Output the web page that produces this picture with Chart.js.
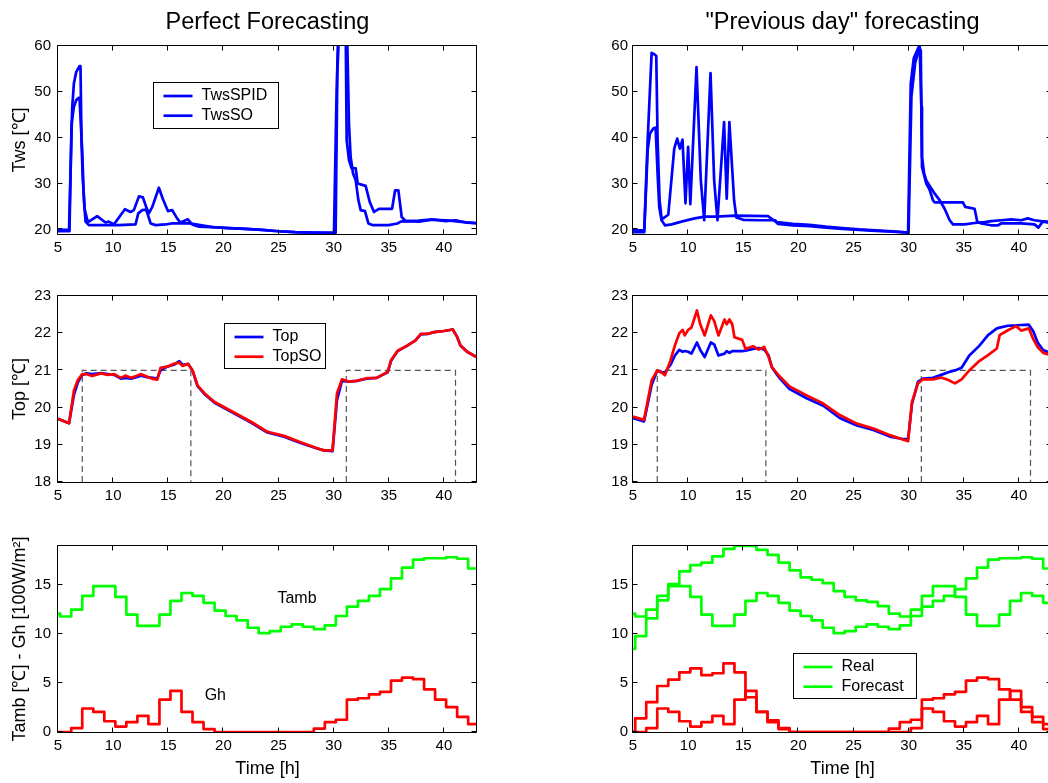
<!DOCTYPE html>
<html>
<head>
<meta charset="utf-8">
<script src="https://cdn.jsdelivr.net/npm/chart.js@4.4.1/dist/chart.umd.min.js"></script>
<style>
  html, body { margin: 0; padding: 0; background: #fff; }
  body { width: 1048px; height: 783px; position: relative; overflow: hidden; }
  canvas { position: absolute; }
</style>
</head>
<body>
<canvas id="c11" width="535" height="264" style="left:0;top:0"></canvas>
<canvas id="c12" width="565" height="264" style="left:560px;top:0"></canvas>
<canvas id="c21" width="535" height="238" style="left:0;top:264px"></canvas>
<canvas id="c22" width="565" height="238" style="left:560px;top:264px"></canvas>
<canvas id="c31" width="535" height="281" style="left:0;top:502px"></canvas>
<canvas id="c32" width="565" height="281" style="left:560px;top:502px"></canvas>
<script>
// tick values
const xTicks = [5, 10, 15, 20, 25, 30, 35, 40];
const twsTicks = [20, 30, 40, 50, 60];
const topTicks = [18, 19, 20, 21, 22, 23];
const ambTicks = [0, 5, 10, 15];

// Tws, perfect forecasting
const spidT = [5, 6.0, 6.13, 6.29, 6.44, 6.65, 6.95, 7.04, 7.13, 7.25, 7.43, 7.65, 7.8, 8.55, 9.31, 9.61, 10.07, 11.07, 11.58, 11.88, 12.34, 12.7, 13.0, 13.24, 13.55, 14.15, 14.5, 14.97, 15.36, 15.8, 16.1, 16.78, 17.17, 17.78, 19.0, 20.5, 22.0, 23.5, 25.0, 26.5, 28.0, 30.03, 30.24, 30.42, 31.09, 31.18, 31.39, 31.63, 31.76, 32.0, 32.18, 32.9, 33.27, 33.66, 34.11, 35.3, 35.57, 35.87, 36.17, 36.53, 37.74, 38.95, 40.16, 41.07, 41.98, 43.0];
const spidV = [19.9, 19.9, 32.2, 46.7, 51.8, 54.3, 55.6, 55.6, 39.5, 30.8, 24.3, 22.1, 21.7, 22.9, 21.5, 21.7, 21.1, 24.4, 23.8, 24.2, 27.2, 27.0, 24.9, 23.5, 24.9, 29.1, 26.7, 24.0, 24.2, 22.4, 21.5, 22.2, 21.1, 20.6, 20.5, 20.3, 20.1, 19.9, 19.6, 19.4, 19.3, 19.26, 46.7, 64, 64, 39.5, 35.1, 33.3, 33.4, 33.3, 30.0, 29.5, 26.0, 23.8, 24.5, 24.5, 28.5, 28.5, 22.7, 21.8, 21.9, 22.2, 21.8, 22.0, 21.5, 21.4];
const soT = [5, 6.04, 6.23, 6.44, 6.65, 6.89, 6.95, 7.19, 7.35, 7.5, 7.8, 9.0, 10.5, 12.03, 12.28, 12.64, 13.0, 13.4, 13.85, 14.76, 15.36, 16.87, 17.5, 19.0, 20.5, 22.0, 23.5, 25.0, 26.5, 28.0, 30.18, 30.33, 30.5, 31.05, 31.24, 31.39, 31.54, 31.76, 32.0, 32.24, 32.45, 32.84, 33.15, 33.51, 35.0, 35.78, 36.08, 36.53, 37.74, 38.95, 40.16, 41.37, 43.0];
const soV = [19.6, 19.6, 43.0, 46.7, 48.2, 48.7, 48.7, 37.3, 26.4, 21.7, 20.94, 20.94, 20.94, 21.08, 23.5, 24.2, 24.3, 21.3, 20.94, 21.08, 21.3, 21.3, 21.1, 20.5, 20.3, 20.1, 19.9, 19.6, 19.4, 19.3, 19.26, 53.9, 64, 64, 60.2, 43.0, 35.8, 32.2, 30.7, 26.4, 24.2, 24.0, 21.3, 20.94, 20.94, 21.3, 21.7, 21.8, 21.7, 22.1, 22.0, 21.7, 21.3];

// Tws, previous day forecasting
const spidPdT = [5, 6.02, 6.33, 6.69, 6.93, 7.11, 7.23, 7.41, 7.6, 8.2, 8.74, 9.01, 9.25, 9.49, 9.76, 10.0, 10.2, 10.76, 11.15, 11.46, 12.03, 12.36, 12.66, 13.26, 13.5, 13.74, 14.17, 14.38, 15.0, 16.5, 17.9, 18.14, 19.5, 21.0, 22.5, 24.0, 25.5, 27.0, 28.5, 29.95, 30.19, 30.46, 30.91, 31.0, 31.15, 31.21, 31.4, 31.6, 32.06, 32.36, 32.81, 33.26, 33.72, 34.02, 35.07, 35.98, 36.88, 37.5, 38.4, 39.3, 40.2, 40.8, 41.41, 42.0, 42.6, 43.0];
const spidPdV = [19.8, 19.8, 39.5, 58.5, 58.2, 57.8, 39.5, 26.4, 22.2, 23.2, 37.6, 39.8, 37.6, 39.6, 25.7, 38.0, 25.5, 55.4, 30.7, 22.0, 54.1, 30.7, 22.0, 43.4, 26.7, 43.4, 26.3, 22.6, 22.1, 22.0, 22.0, 21.2, 20.9, 20.7, 20.4, 20.1, 19.9, 19.7, 19.5, 19.3, 51.8, 57.3, 59.8, 60.0, 46.7, 35.8, 32.2, 30.7, 28.9, 27.8, 26.4, 24.5, 22.0, 21.1, 21.1, 21.4, 21.6, 21.8, 22.0, 22.2, 22.0, 22.4, 22.0, 21.8, 21.7, 21.7];
const soPdT = [5, 6.02, 6.33, 6.54, 6.84, 7.05, 7.23, 7.38, 7.59, 7.9, 8.5, 9.4, 10.6, 11.5, 12.57, 14.23, 17.24, 17.99, 19.5, 21.0, 22.5, 24.0, 25.5, 27.0, 28.5, 29.99, 30.25, 30.6, 31.0, 31.1, 31.21, 31.6, 31.91, 32.2, 32.36, 34.92, 35.13, 35.98, 36.22, 36.58, 37.49, 38.1, 38.4, 40.2, 41.41, 41.77, 42.16, 42.6, 43.0];
const soPdV = [19.4, 19.4, 37.3, 40.9, 42.0, 42.2, 32.2, 24.9, 22.0, 20.9, 21.1, 21.7, 22.4, 22.8, 22.8, 23.0, 22.9, 21.6, 21.2, 21.0, 20.6, 20.3, 20.0, 19.8, 19.6, 19.3, 49.0, 56.5, 59.5, 59.0, 33.6, 30.0, 28.6, 26.4, 25.9, 25.9, 24.9, 24.5, 21.7, 21.3, 20.9, 20.9, 21.3, 21.3, 21.1, 20.4, 21.7, 21.5, 21.5];

// Top, perfect forecasting
const topT = [5, 6, 6.45, 6.8, 7.2, 7.6, 8.1, 8.9, 9.5, 10.1, 10.7, 11.1, 11.6, 12.1, 12.5, 13.1, 13.6, 14.0, 14.3, 14.9, 15.5, 16.0, 16.3, 16.8, 17.2, 17.65, 18.3, 19.2, 21.0, 22.5, 24.0, 25.5, 27.0, 28.5, 29.1, 29.9, 30.3, 30.75, 31.35, 32.1, 33.0, 33.9, 34.9, 35.2, 35.8, 36.7, 37.4, 37.9, 38.5, 39.1, 40.0, 40.8, 41.2, 41.5, 42.1, 43.0];
const topV = [19.7, 19.58, 20.35, 20.68, 20.88, 20.92, 20.9, 20.93, 20.9, 20.88, 20.78, 20.8, 20.78, 20.82, 20.86, 20.82, 20.8, 20.78, 21.0, 21.1, 21.15, 21.25, 21.15, 21.17, 21.0, 20.58, 20.36, 20.13, 19.84, 19.6, 19.33, 19.22, 19.05, 18.9, 18.85, 18.83, 20.2, 20.72, 20.7, 20.72, 20.78, 20.8, 20.95, 21.25, 21.52, 21.67, 21.8, 21.97, 21.98, 22.03, 22.06, 22.1, 21.9, 21.67, 21.5, 21.35];
const topSoV = [19.7, 19.58, 20.47, 20.74, 20.9, 20.9, 20.85, 20.92, 20.88, 20.9, 20.8, 20.86, 20.8, 20.85, 20.9, 20.83, 20.77, 20.75, 21.07, 21.1, 21.18, 21.21, 21.12, 21.18, 21.0, 20.6, 20.38, 20.15, 19.86, 19.62, 19.35, 19.24, 19.07, 18.91, 18.85, 18.85, 20.38, 20.76, 20.7, 20.72, 20.79, 20.8, 20.96, 21.27, 21.53, 21.67, 21.8, 21.98, 21.98, 22.03, 22.06, 22.1, 21.9, 21.67, 21.5, 21.35];

// Top, previous day forecasting
const topPdT = [5, 6.0, 6.7, 7.2, 7.5, 7.9, 8.4, 8.8, 9.2, 9.5, 9.7, 10.0, 10.3, 10.8, 11.1, 11.5, 12.06, 12.36, 12.75, 13.3, 13.5, 13.75, 14.0, 14.2, 14.9, 15.2, 15.9, 16.4, 16.9, 17.3, 17.6, 18.2, 19.2, 20.75, 22.25, 23.75, 25.3, 26.8, 28.3, 29.6, 29.95, 30.3, 30.85, 31.3, 32.2, 32.95, 33.6, 34.2, 34.8, 35.5, 36.4, 37.2, 38.0, 38.25, 39.0, 39.75, 40.2, 40.9, 41.3, 41.7, 42.2, 43.0];
const topPdV = [19.72, 19.63, 20.62, 21.0, 20.95, 20.95, 21.15, 21.4, 21.55, 21.5, 21.52, 21.5, 21.45, 21.75, 21.55, 21.36, 21.75, 21.7, 21.4, 21.45, 21.52, 21.47, 21.52, 21.52, 21.52, 21.53, 21.58, 21.6, 21.56, 21.4, 21.08, 20.83, 20.5, 20.25, 20.05, 19.72, 19.52, 19.4, 19.22, 19.15, 19.15, 20.1, 20.7, 20.78, 20.8, 20.88, 20.95, 21.0, 21.07, 21.4, 21.66, 21.95, 22.13, 22.15, 22.2, 22.21, 22.22, 22.23, 22.05, 21.75, 21.55, 21.45];
const topSoPdV = [19.76, 19.67, 20.74, 21.0, 20.96, 20.87, 21.27, 21.67, 22.0, 22.09, 21.94, 22.09, 22.15, 22.61, 22.24, 21.94, 22.48, 22.33, 21.94, 22.37, 22.24, 22.37, 22.24, 21.89, 21.82, 21.58, 21.65, 21.56, 21.63, 21.36, 21.09, 20.87, 20.57, 20.33, 20.11, 19.8, 19.57, 19.44, 19.26, 19.13, 19.1, 20.15, 20.65, 20.76, 20.76, 20.81, 20.74, 20.65, 20.76, 21.0, 21.25, 21.41, 21.59, 21.95, 22.08, 22.19, 22.07, 22.13, 21.84, 21.63, 21.47, 21.4];

// comfort setpoint (occupancy band)
const spT = [7.2, 7.2, 17.05, 17.05, 24, 31.15, 31.15, 41.05, 41.05];
const spV = [18, 21, 21, 18, null, 18, 21, 21, 18];

// hourly weather data (value holds from each time on)
const stepT = [5, 5.2, 6.2, 7.2, 8.2, 9.2, 10.2, 11.2, 12.2, 13.2, 14.2, 15.2, 16.2, 17.2, 18.2, 19.2, 20.2, 21.2, 22.2, 23.2, 24.2, 25.2, 26.2, 27.2, 28.2, 29.2, 30.2, 31.2, 32.2, 33.2, 34.2, 35.2, 36.2, 37.2, 38.2, 39.2, 40.2, 41.2, 42.2, 43];
const tambReal = [12.1, 11.8, 12.5, 13.9, 14.9, 14.9, 13.8, 12.0, 10.85, 10.85, 12.0, 13.4, 14.2, 13.9, 13.2, 12.4, 11.85, 11.4, 10.65, 10.1, 10.3, 10.75, 11.0, 10.75, 10.5, 10.9, 11.85, 12.8, 13.4, 13.9, 14.6, 15.7, 16.8, 17.6, 17.75, 17.75, 17.85, 17.7, 16.7, 16.7];
const ghReal = [0, 0, 0.4, 2.4, 2.05, 1.1, 0.55, 1.0, 1.65, 0.8, 3.3, 4.2, 2.05, 1.0, 0.3, 0, 0, 0, 0, 0, 0, 0, 0, 0, 0.35, 1.0, 1.25, 3.3, 3.45, 3.85, 4.1, 5.25, 5.55, 5.4, 4.35, 3.3, 2.55, 1.55, 0.8, 0.8];
const tambFc = [8.5, 9.8, 11.6, 13.45, 15.1, 16.4, 17.05, 17.3, 17.95, 18.7, 19.0, 19.0, 18.6, 18.1, 17.3, 16.5, 15.8, 15.55, 15.2, 14.4, 13.8, 13.45, 13.3, 12.85, 12.1, 11.8, 12.5, 13.9, 14.9, 14.9, 13.8, 12.0, 10.85, 10.85, 12.0, 13.4, 14.2, 13.9, 13.2, 13.2];
const ghFc = [0, 1.4, 3.05, 4.7, 5.35, 6.1, 6.5, 5.8, 6.0, 7.0, 6.1, 3.55, 2.05, 1.2, 0.4, 0, 0, 0, 0, 0, 0, 0, 0, 0, 0, 0, 0.4, 2.4, 2.05, 1.1, 0.55, 1.0, 1.65, 0.8, 3.3, 4.2, 2.05, 1.0, 0.3, 0.3];

const BLUE = '#0000ff', RED = '#ff0000', GREEN = '#00ff00';
const FONT = '"Liberation Sans", Arial, Helvetica, sans-serif';
Chart.defaults.font.family = FONT;
Chart.defaults.color = '#000';

const pts = (t, v) => t.map((x, i) => ({ x, y: v[i] }));
function series(label, t, v, color, extra) {
  return Object.assign({
    label, data: pts(t, v), borderColor: color, borderWidth: 2.7,
    pointRadius: 0, pointHitRadius: 0, tension: 0, fill: false, borderJoinStyle: 'round'
  }, extra);
}
const setpoint = () => series('setpoint', spT, spV, '#555', { borderWidth: 1.2, borderDash: [6, 4], borderJoinStyle: 'miter' });

// box with inward ticks on all four sides
const frame = {
  id: 'frame',
  afterDatasetsDraw(chart) {
    const { ctx, chartArea: a, scales } = chart;
    const L = a.left - 0.5, R = a.right - 0.5, T = a.top - 0.5, B = a.bottom + 0.5;
    ctx.save();
    ctx.strokeStyle = '#000';
    ctx.lineWidth = 1;
    ctx.beginPath();
    ctx.rect(L, T, R - L, B - T);
    scales.x.ticks.forEach(t => {
      const p = Math.round(scales.x.getPixelForValue(t.value)) - 0.5;
      ctx.moveTo(p, B); ctx.lineTo(p, B - 5);
      ctx.moveTo(p, T); ctx.lineTo(p, T + 5);
    });
    scales.y.ticks.forEach(t => {
      const p = Math.round(scales.y.getPixelForValue(t.value)) - 0.5;
      ctx.moveTo(L, p); ctx.lineTo(L + 5, p);
      ctx.moveTo(R, p); ctx.lineTo(R - 5, p);
    });
    ctx.stroke();
    ctx.restore();
  }
};

// matlab style legend box inside the axes
function boxLegend(items, box) {
  return {
    id: 'boxLegend',
    afterDraw(chart) {
      const { ctx, chartArea: a } = chart;
      const bx = Math.round(a.left + box.left) + 0.5, by = Math.round(a.top + box.top) + 0.5;
      ctx.save();
      ctx.fillStyle = '#fff';
      ctx.fillRect(bx, by, box.width, box.height);
      ctx.strokeStyle = '#000';
      ctx.lineWidth = 1;
      ctx.strokeRect(bx, by, box.width, box.height);
      ctx.font = '16px ' + FONT;
      ctx.textBaseline = 'middle';
      items.forEach((idx, i) => {
        const ds = chart.data.datasets[idx];
        const ly = by + 13.5 + i * 19.7;
        ctx.strokeStyle = ds.borderColor;
        ctx.lineWidth = ds.borderWidth;
        ctx.beginPath();
        ctx.moveTo(bx + 10, ly); ctx.lineTo(bx + 39, ly);
        ctx.stroke();
        ctx.fillStyle = '#000';
        ctx.fillText(ds.label, bx + 48, ly);
      });
      ctx.restore();
    }
  };
}

// free text labels placed at data coordinates
function notes(list) {
  return {
    id: 'notes',
    afterDraw(chart) {
      const { ctx, scales: { x, y } } = chart;
      ctx.save();
      ctx.font = '16px ' + FONT;
      ctx.fillStyle = '#000';
      ctx.textBaseline = 'middle';
      list.forEach(n => ctx.fillText(n.text, x.getPixelForValue(n.x), y.getPixelForValue(n.y)));
      ctx.restore();
    }
  };
}

function panel(id, col, row, o) {
  const padL = col ? 73 : 58;
  const padB = [30, 20, 51][row];
  new Chart(document.getElementById(id), {
    type: 'line',
    data: { datasets: o.datasets },
    options: {
      responsive: false,
      animation: false,
      devicePixelRatio: 1,
      layout: { padding: { top: [0, 32, 44][row], left: 0, right: 0, bottom: 0 } },
      plugins: {
        legend: { display: false },
        tooltip: { enabled: false },
        title: {
          display: row === 0, text: o.title || '', color: '#000',
          font: { size: 23.5, weight: 'normal' }, padding: { top: 8.9, bottom: 8.9 }
        }
      },
      scales: {
        x: {
          type: 'linear', min: 5, max: 43,
          afterBuildTicks: s => { s.ticks = xTicks.map(value => ({ value })); },
          afterFit: s => { s.height = padB; },
          grid: { display: false, drawTicks: false }, border: { display: false },
          ticks: { font: { size: 15 }, padding: 5, maxRotation: 0, color: '#000' },
          title: { display: row === 2, text: 'Time [h]', font: { size: 18 }, color: '#000', padding: { top: 0, bottom: 3 } }
        },
        y: {
          type: 'linear', min: o.ymin, max: o.ymax,
          afterBuildTicks: s => { s.ticks = o.yTicks.map(value => ({ value })); },
          afterFit: s => { s.width = padL; },
          grid: { display: false, drawTicks: false }, border: { display: false },
          ticks: { font: { size: 15 }, padding: col ? 5 : 7, color: '#000' },
          title: { display: !col, text: o.ylabel || '', font: { size: 18 }, color: '#000', padding: { top: 9, bottom: 0 } }
        },
        yR: {
          type: 'linear', position: 'right', display: true,
          ticks: { display: false }, grid: { display: false, drawTicks: false }, border: { display: false },
          afterFit: s => { s.width = padL; }
        }
      }
    },
    plugins: [frame].concat(o.extra || [])
  });
}

let ds;

ds = [series('TwsSPID', spidT, spidV, BLUE), series('TwsSO', soT, soV, BLUE)];
panel('c11', 0, 0, {
  title: 'Perfect Forecasting', ylabel: 'Tws [℃]', ymin: 19, ymax: 60, yTicks: twsTicks, datasets: ds,
  extra: [boxLegend([0, 1], { left: 95, top: 36, width: 125, height: 46 })]
});

ds = [series('TwsSPID', spidPdT, spidPdV, BLUE), series('TwsSO', soPdT, soPdV, BLUE)];
panel('c12', 1, 0, { title: '"Previous day" forecasting', ymin: 19, ymax: 60, yTicks: twsTicks, datasets: ds });

ds = [series('TopSO', topT, topSoV, RED), series('Top', topT, topV, BLUE), setpoint()];
panel('c21', 0, 1, {
  ylabel: 'Top [℃]', ymin: 18, ymax: 23, yTicks: topTicks, datasets: ds,
  extra: [boxLegend([1, 0], { left: 166, top: 27, width: 101, height: 45 })]
});

ds = [series('TopSO', topPdT, topSoPdV, RED), series('Top', topPdT, topPdV, BLUE), setpoint()];
panel('c22', 1, 1, { ymin: 18, ymax: 23, yTicks: topTicks, datasets: ds });

ds = [
  series('Tamb', stepT, tambReal, GREEN, { stepped: true }),
  series('Gh', stepT, ghReal, RED, { stepped: true })
];
panel('c31', 0, 2, {
  ylabel: 'Tamb [℃] - Gh [100W/m²]', ymin: 0, ymax: 19, yTicks: ambTicks, datasets: ds,
  extra: [notes([{ text: 'Tamb', x: 24.9, y: 13.6 }, { text: 'Gh', x: 18.3, y: 3.7 }])]
});

ds = [
  series('Real', stepT, tambReal, GREEN, { stepped: true }),
  series('Forecast', stepT, tambFc, GREEN, { stepped: true }),
  series('Gh real', stepT, ghReal, RED, { stepped: true }),
  series('Gh forecast', stepT, ghFc, RED, { stepped: true })
];
panel('c32', 1, 2, {
  ymin: 0, ymax: 19, yTicks: ambTicks, datasets: ds,
  extra: [boxLegend([0, 1], { left: 160, top: 107, width: 123, height: 45 })]
});
</script>
</body>
</html>
